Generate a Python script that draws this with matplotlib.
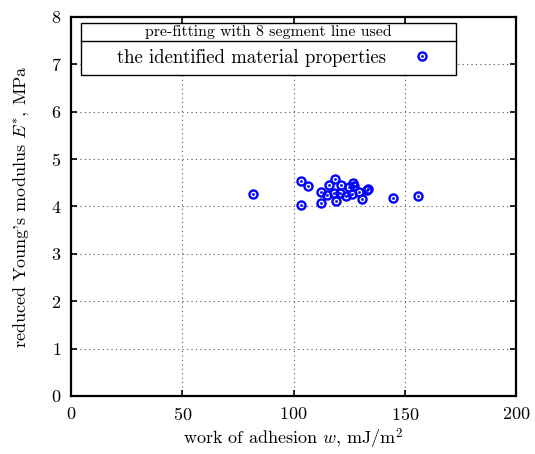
import numpy as np
import matplotlib
matplotlib.use('Agg')
import matplotlib.pyplot as plt
from matplotlib.patches import Rectangle
from matplotlib.legend_handler import HandlerTuple

plt.rcParams['font.family'] = 'serif'
plt.rcParams['font.serif'] = ['cmr10']
plt.rcParams['mathtext.fontset'] = 'cm'
plt.rcParams['axes.formatter.use_mathtext'] = True

# identified material properties: work of adhesion w (mJ/m^2) and E* (MPa)
w_adh = [81.7, 103.2, 106.5, 103.4, 112.2, 112.4, 114.9, 116.1, 118.7, 119.1,
         118.3, 121.2, 120.9, 123.4, 124.9, 126.7, 127.2, 126.2, 129.3, 130.9,
         132.9, 133.3, 144.6, 156.1]
e_star = [4.26, 4.54, 4.43, 4.04, 4.30, 4.07, 4.25, 4.46, 4.58, 4.11,
          4.29, 4.45, 4.29, 4.23, 4.42, 4.49, 4.44, 4.26, 4.31, 4.16,
          4.35, 4.37, 4.18, 4.22]

x_ticks = [0, 50, 100, 150, 200]
y_ticks = [0, 1, 2, 3, 4, 5, 6, 7, 8]

blue = '#0000ff'

fig = plt.figure(figsize=(5.35, 4.54), dpi=100)
ax = fig.add_axes([0.1327, 0.1278, 0.8318, 0.8348])

ring, = ax.plot(w_adh, e_star, 'o', ls='none', ms=5.8, mfc='none', mec=blue, mew=1.7, zorder=3)
dot, = ax.plot(w_adh, e_star, 'o', ls='none', ms=1.6, mfc=blue, mec=blue, mew=0.4, zorder=4)

ax.set_xlim(0, 200)
ax.set_ylim(0, 8)
ax.set_xticks(x_ticks)
ax.set_yticks(y_ticks)
ax.grid(True, ls=(0, (1, 3)), color='#555555', lw=0.8)
ax.tick_params(direction='in', length=4, width=1.2, top=True, right=True,
               labelsize=13, pad=7)
for s in ax.spines.values():
    s.set_linewidth(1.6)

ax.set_xlabel(r'work of adhesion $w$, mJ/m$^2$', fontsize=13, labelpad=3)
ax.set_ylabel(r"reduced Young's modulus $E^{*}$, MPa", fontsize=13, labelpad=14)

# legend box with a title row separated by a line
x0, x1 = 0.0214, 0.8652
y0, ysep, y1 = 0.8463, 0.9375, 0.9850
ax.add_patch(Rectangle((x0, y0), x1 - x0, y1 - y0, transform=ax.transAxes,
                       fill=True, fc='white', ec='black', lw=1.0, zorder=5))
ax.plot([x0, x1], [ysep, ysep], transform=ax.transAxes, color='black', lw=1.0, zorder=6)
ax.text((x0 + x1) / 2, (ysep + y1) / 2, 'pre-fitting with 8 segment line used',
        transform=ax.transAxes, ha='center', va='center', fontsize=11.4, zorder=7)

leg = ax.legend([(ring, dot)], ['the identified material properties'],
                handler_map={tuple: HandlerTuple(ndivide=1, pad=0)},
                loc='center', bbox_to_anchor=(0.4566, 0.892), frameon=False,
                markerfirst=False, handlelength=1.0, handletextpad=1.37,
                fontsize=13.5, borderpad=0)
leg.set_zorder(8)

fig.savefig('out.png', dpi=100)
